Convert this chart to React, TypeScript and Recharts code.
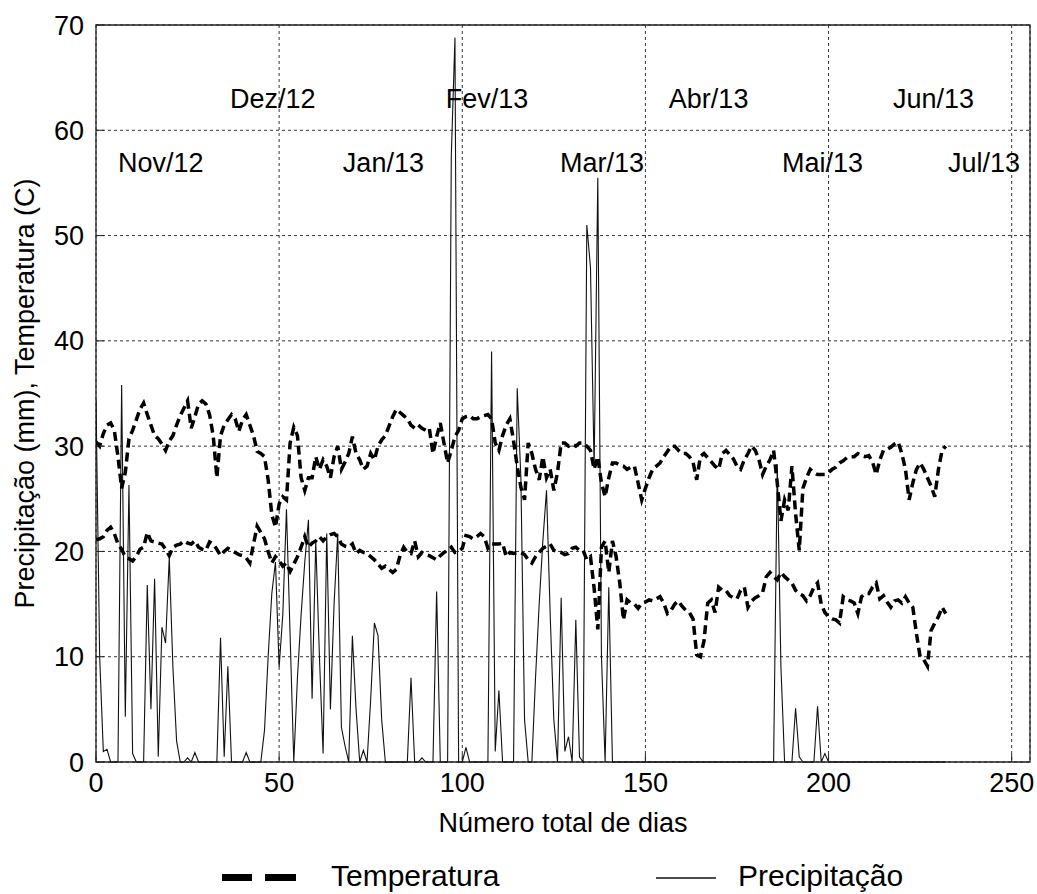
import { LineChart, Line, XAxis, YAxis, CartesianGrid, ReferenceArea, ReferenceDot } from 'recharts';

// daily series, day 0 = start of the record (Nov/12)
const tempMax = [
  30.4, 30.0, 31.2, 32.0, 32.2, 31.5, 29.0, 26.0, 27.5, 30.7,
  31.5, 32.5, 33.5, 34.1, 33.0, 32.0, 31.0, 30.7, 30.2, 29.6,
  30.5, 31.0, 32.0, 32.9, 33.6, 34.3, 31.7, 32.8, 34.0, 34.3,
  34.0, 33.0, 31.0, 27.0, 31.0, 32.0, 32.5, 33.0, 32.6, 31.4,
  32.5, 33.0, 32.0, 31.0, 29.5, 29.3, 29.0, 26.8, 23.5, 22.3,
  24.5, 25.2, 24.9, 30.3, 31.8, 31.0, 27.0, 25.8, 27.0, 27.0,
  29.0, 27.8, 28.7, 28.1, 27.0, 29.0, 30.0, 27.8, 28.5, 29.3,
  30.9, 29.3, 28.7, 27.8, 28.1, 29.3, 28.7, 30.0, 30.6, 31.0,
  31.9, 32.8, 33.5, 33.2, 32.9, 32.6, 32.0, 31.7, 32.0, 31.7,
  31.5, 31.7, 29.3, 30.9, 32.2, 30.3, 28.4, 29.6, 30.9, 31.5,
  32.6, 32.8, 32.9, 32.6, 32.6, 32.8, 32.9, 33.0, 32.6, 30.3,
  29.6, 31.0, 32.0, 32.6, 30.5, 28.1, 26.1, 24.9, 30.3, 29.3,
  27.8, 26.8, 29.0, 27.0, 27.8, 25.8, 27.5, 30.3, 30.3, 30.0,
  30.2, 30.0, 30.3, 30.3, 30.0, 29.6, 27.8, 29.0, 26.5, 25.2,
  27.0, 28.4, 28.4, 28.2, 28.1, 27.8, 28.0, 28.1, 26.5, 24.9,
  26.0, 27.0, 27.8, 28.1, 28.4, 29.0, 29.5, 30.0, 30.0, 29.6,
  29.3, 29.3, 29.0, 28.5, 26.8, 29.0, 29.3, 28.9, 28.5, 28.1,
  27.8, 29.3, 29.6, 29.2, 28.8, 28.1, 27.8, 28.7, 29.3, 30.0,
  29.6, 28.7, 27.3, 28.1, 28.7, 29.6, 26.5, 22.9, 24.9, 23.9,
  28.1, 23.6, 20.1, 26.0, 27.0, 27.8, 27.5, 27.3, 27.3, 27.3,
  27.5, 27.8, 28.0, 28.4, 28.6, 28.9, 29.0, 29.0, 29.3, 29.1,
  29.0, 29.1, 28.5, 27.3, 28.7, 29.6, 29.7, 29.9, 30.2, 30.4,
  29.3, 27.8, 24.9, 26.5, 27.8, 28.4, 27.8, 27.0, 26.2, 25.2,
  27.8, 29.6, 30.0,
];

const tempMin = [
  21.1, 21.2, 21.4, 22.0, 22.3, 21.7, 20.7, 20.2, 19.5, 19.3,
  19.1, 19.5, 20.2, 20.4, 21.8, 21.0, 20.9, 20.8, 20.7, 20.2,
  19.6, 20.4, 20.6, 20.7, 21.0, 20.8, 20.7, 21.0, 20.4, 20.2,
  20.1, 20.9, 20.7, 20.2, 19.6, 20.0, 20.3, 20.1, 19.9, 19.7,
  19.6, 19.4, 18.9, 20.7, 22.4, 21.8, 21.2, 20.0, 18.9, 19.5,
  19.1, 18.6, 18.9, 18.1, 18.8, 19.5, 20.4, 21.4, 20.4, 20.8,
  21.0, 21.4, 21.0, 21.4, 21.6, 21.7, 21.4, 20.7, 20.5, 20.4,
  20.7, 19.8, 20.1, 19.9, 19.8, 19.5, 19.2, 18.8, 18.4, 18.6,
  18.3, 18.0, 18.3, 19.6, 20.4, 19.9, 19.8, 21.0, 19.5, 19.9,
  19.7, 19.6, 19.4, 19.2, 19.6, 19.9, 20.1, 20.4, 19.9, 20.0,
  20.3, 21.5, 21.4, 21.2, 21.4, 21.7, 21.4, 20.3, 20.7, 20.7,
  20.7, 20.8, 19.5, 19.9, 19.8, 19.9, 19.9, 19.7, 19.2, 18.9,
  19.5, 19.9, 20.3, 20.5, 20.7, 20.1, 20.0, 19.9, 19.7, 19.8,
  20.3, 20.4, 20.1, 20.1, 19.2, 19.5, 16.5, 12.6, 20.4, 21.0,
  18.0, 21.0, 19.5, 17.0, 13.5, 15.4, 15.1, 15.0, 14.6, 15.1,
  15.2, 15.4, 15.3, 15.5, 15.7, 15.1, 14.1, 14.4, 15.0, 15.3,
  14.8, 14.4, 14.2, 13.6, 10.2, 10.0, 11.5, 15.1, 15.4, 14.2,
  16.6, 16.3, 16.3, 15.8, 15.6, 15.5, 16.3, 16.6, 14.7, 15.3,
  15.6, 15.8, 16.1, 17.6, 18.0, 17.6, 17.3, 18.0, 17.6, 17.3,
  17.0, 16.3, 16.0, 15.8, 15.3, 15.8, 16.6, 17.0, 15.0, 14.2,
  13.8, 13.6, 13.5, 13.2, 15.7, 15.4, 15.3, 15.1, 14.1, 15.7,
  16.0, 16.0, 16.6, 17.0, 15.5, 15.8, 15.2, 14.7, 15.3, 15.4,
  15.1, 15.7, 15.1, 14.7, 12.2, 10.0, 9.7, 9.1, 12.5, 13.2,
  13.8, 14.7, 14.1,
];

const rainfall = [
  34.4, 10, 1, 1.2, 0, 0, 0, 35.8, 4.3, 26.3,
  0.8, 0, 0, 0, 16.8, 5, 17.4, 0.5, 12.8, 11.3,
  19.4, 9, 2, 0, 0, 0.4, 0, 0.9, 0, 0,
  0, 0, 0, 0, 11.8, 0.5, 9.1, 0, 0, 0,
  0, 0.9, 0, 0, 0, 0, 3, 10, 16, 19,
  9, 14, 24, 12, 0, 8, 14, 19, 23, 6,
  21, 10, 0.8, 21.7, 5, 15, 21.7, 3.3, 1.5, 0,
  12, 5, 0, 1.1, 0, 6, 13.2, 12, 4, 0,
  0, 0, 0, 0, 0, 0, 8, 0, 0, 0.4,
  0, 0, 0, 16.2, 0, 0, 0, 57.5, 68.8, 0,
  0, 1.4, 0, 0, 0, 0, 0, 0, 39, 1,
  6.8, 0, 0, 0, 0, 35.5, 27, 4, 0, 0,
  8, 15, 21, 25.8, 14, 4, 0, 15.6, 1, 2.4,
  0, 13.5, 0.5, 0, 51, 47, 28, 55.5, 10, 0,
  16.6, 0, 0, 0, 0, 0, 0, 0, 0, 0,
  0, 0, 0, 0, 0, 0, 0, 0, 0, 0,
  0, 0, 0, 0, 0, 0, 0, 0, 0, 0,
  0, 0, 0, 0, 0, 0, 0, 0, 0, 0,
  0, 0, 0, 0, 0, 0, 28.3, 9, 0, 0,
  0, 5.1, 0.5, 0, 0, 0, 0, 5.3, 0, 0.8,
  0, 0, 0, 0, 0, 0, 0, 0, 0, 0,
  0, 0, 0, 0, 0, 0, 0, 0, 0, 0,
  0, 0, 0, 0, 0, 0, 0, 0, 0, 0,
  0, 0, 0,
];

const xTicks = [0, 50, 100, 150, 200, 250];
const yTicks = [0, 10, 20, 30, 40, 50, 60, 70];

// month annotations: text, day where the text starts, level (mm / C)
const monthNames = ['Nov/12', 'Dez/12', 'Jan/13', 'Fev/13', 'Mar/13', 'Abr/13', 'Mai/13', 'Jun/13', 'Jul/13'];
const monthDays = [6, 36.6, 67.4, 95.5, 126.7, 156.4, 187.3, 217.6, 232.6];
const monthLevels = [57, 63, 57, 63, 57, 63, 57, 63, 57];

const data = rainfall.map((p, i) => ({ day: i, precip: p, tmax: tempMax[i], tmin: tempMin[i] }));

const FONT = "'Liberation Sans', Arial, sans-serif";
const tickStyle = { fontSize: 27, fill: '#000', fontFamily: FONT };

export default function App() {
  return (
    <div style={{ position: 'absolute', left: 0, top: 0, width: 1037, height: 894, background: '#fff', fontFamily: FONT }}>
      <LineChart width={1037} height={894} data={data} margin={{ top: 25, right: 7, bottom: 62, left: 0 }}>
        <CartesianGrid stroke="#000" strokeWidth={0.8} strokeDasharray="3 3" />
        <XAxis
          dataKey="day"
          type="number"
          domain={[0, 255]}
          ticks={xTicks}
          allowDataOverflow
          height={70}
          axisLine={false}
          tickSize={-8}
          tickMargin={19}
          tickLine={{ stroke: '#222' }}
          tick={tickStyle}
          label={{ value: 'Número total de dias', position: 'insideBottom', offset: 0, style: { fontSize: 27, fill: '#000', fontFamily: FONT } }}
        />
        <XAxis xAxisId="top" orientation="top" type="number" domain={[0, 255]} ticks={xTicks} height={0} axisLine={false} tick={false} tickSize={-8} tickLine={{ stroke: '#222' }} />
        <YAxis
          type="number"
          domain={[0, 70]}
          ticks={yTicks}
          width={96}
          axisLine={false}
          tickSize={-8}
          tickMargin={20}
          tickLine={{ stroke: '#222' }}
          tick={tickStyle}
          label={{ value: 'Precipitação (mm), Temperatura (C)', angle: -90, position: 'insideLeft', offset: 24, style: { textAnchor: 'middle', fontSize: 27, fill: '#000', fontFamily: FONT } }}
        />
        <YAxis yAxisId="right" orientation="right" type="number" domain={[0, 70]} ticks={yTicks} width={0} axisLine={false} tick={false} tickSize={-8} tickLine={{ stroke: '#222' }} />
        <ReferenceArea x1={0} x2={255} y1={0} y2={70} fill="none" stroke="#222" strokeWidth={1.3} ifOverflow="extendDomain" />
        <Line type="linear" dataKey="precip" stroke="#111" strokeWidth={1.1} dot={false} isAnimationActive={false} />
        <Line type="linear" dataKey="tmax" stroke="#000" strokeWidth={3.5} strokeDasharray="9 5" dot={false} isAnimationActive={false} />
        <Line type="linear" dataKey="tmin" stroke="#000" strokeWidth={3.5} strokeDasharray="9 5" dot={false} isAnimationActive={false} />
        {monthNames.map((name, i) => (
          <ReferenceDot
            key={name}
            x={monthDays[i]}
            y={monthLevels[i]}
            r={0}
            ifOverflow="visible"
            shape={(p: any) => (
              <text x={p.cx} y={p.cy} dy="0.36em" textAnchor="start" fontSize={27} fill="#000" fontFamily={FONT}>
                {name}
              </text>
            )}
          />
        ))}
      </LineChart>
      <svg width={1037} height={894} style={{ position: 'absolute', left: 0, top: 0, pointerEvents: 'none' }}>
        <rect x={222} y={874} width={30} height={7} fill="#000" />
        <rect x={265} y={874} width={31} height={7} fill="#000" />
        <text x={331} y={886} fontSize={30} fill="#000" fontFamily={FONT}>Temperatura</text>
        <line x1={656} x2={716} y1={878} y2={878} stroke="#111" strokeWidth={1.5} />
        <text x={738} y={886} fontSize={30} fill="#000" fontFamily={FONT}>Precipitação</text>
      </svg>
    </div>
  );
}
